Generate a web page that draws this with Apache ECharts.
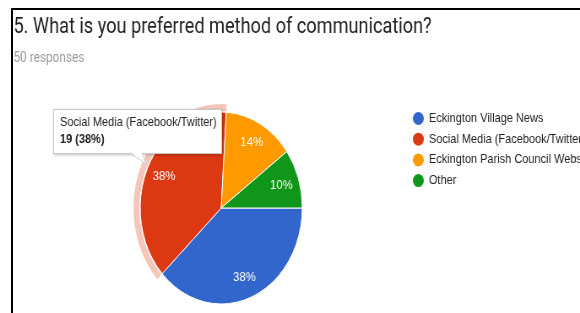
<!DOCTYPE html>
<html>
<head>
<meta charset="utf-8">
<script src="https://cdn.jsdelivr.net/npm/echarts@6/dist/echarts.min.js"></script>
<style>
  html, body { margin: 0; padding: 0; background: #fff; overflow: hidden; }
  #frame {
    position: absolute; left: 11px; top: 8px; width: 700px; height: 400px;
    border-left: 2px solid #000; border-top: 2px solid #000;
  }
  /* the screenshot is squeezed sideways, so the whole chart is too */
  #chart {
    position: absolute; left: 0; top: 0; width: 687px; height: 313px;
    transform: scaleX(0.8443); transform-origin: 0 0;
  }
</style>
</head>
<body>
<div id="frame"></div>
<div id="chart"></div>
<script>
const categories = ['Eckington Village News', 'Social Media (Facebook/Twitter)', 'Eckington Parish Council Website', 'Other']
const counts = [19, 19, 7, 5]
const totalResponses = 50
const picked = 1 // slice under the mouse in the screenshot

const sans = 'Arial, "Liberation Sans", sans-serif'
const pieData = categories.map((name, i) => ({ name: name, value: counts[i] }))

const myChart = echarts.init(document.getElementById('chart'))
myChart.setOption({
  animation: false,
  color: ['#3366cc', '#dc3912', '#ff9900', '#109618'],
  title: [
    {
      text: '5. What is you preferred method of communication?',
      left: 16, top: 17, padding: 0,
      textStyle: { fontFamily: 'Roboto', fontSize: 21.5, fontWeight: 'normal', color: '#212121' }
    },
    {
      text: totalResponses + ' responses',
      left: 16, top: 51, padding: 0,
      textStyle: { fontFamily: 'Roboto', fontSize: 14, fontWeight: 'normal', color: '#999' }
    }
  ],
  legend: {
    orient: 'vertical',
    left: 487, top: 110,
    icon: 'circle',
    itemWidth: 15, itemHeight: 15, itemGap: 3.7,
    padding: 0,
    textStyle: { fontFamily: sans, fontSize: 13, color: '#222' },
    data: categories
  },
  tooltip: {
    trigger: 'item',
    alwaysShowContent: true,
    transitionDuration: 0,
    backgroundColor: '#fff',
    borderColor: '#c8c8c8',
    borderWidth: 1,
    padding: [4, 7, 6, 7],
    extraCssText: 'width:184px;border-radius:0;box-shadow:1px 1px 3px rgba(0,0,0,0.25);',
    position: function () { return [63, 109] },
    formatter: function (p) {
      return '<div style="font-family:' + sans.replace(/"/g, "'") + ';font-size:13px;line-height:16.5px;color:#222;">' +
        p.name + '<br><b>' + p.value + ' (' + Math.round(p.percent) + '%)</b></div>' +
        '<svg width="22" height="14" style="position:absolute;left:90px;top:42px;overflow:visible">' +
        '<polygon points="0,0 14,0 19,12" fill="#fff"/>' +
        '<polyline points="0,0.5 19,12 14,0.5" fill="none" stroke="#cfcfcf" stroke-width="1"/></svg>'
    }
  },
  series: [
    {
      type: 'pie',
      name: 'answers',
      center: [262, 208],
      radius: [0, 96],
      startAngle: 0,
      label: { show: false },
      labelLine: { show: false },
      emphasis: { disabled: true },
      itemStyle: { borderColor: '#fff', borderWidth: 1 },
      data: pieData
    },
    {
      // percentages sit at 3/4 of the radius, as Google draws them
      type: 'pie',
      silent: true,
      tooltip: { show: false },
      center: [262, 208],
      radius: [48, 96],
      startAngle: 0,
      emphasis: { disabled: true },
      itemStyle: { color: 'rgba(0,0,0,0)' },
      label: {
        show: true, position: 'inside', formatter: '{d}%',
        fontFamily: sans, fontSize: 13.5, color: '#fff'
      },
      labelLine: { show: false },
      data: pieData
    },
    {
      // highlight ring round the hovered slice
      type: 'pie',
      silent: true,
      tooltip: { show: false },
      center: [262, 208],
      radius: [97, 104],
      startAngle: 0,
      label: { show: false },
      labelLine: { show: false },
      emphasis: { disabled: true },
      data: pieData.map((d, i) => ({
        name: d.name, value: d.value,
        itemStyle: { color: i === picked ? '#f5c6ba' : 'rgba(0,0,0,0)' }
      }))
    }
  ]
})

myChart.dispatchAction({ type: 'showTip', seriesIndex: 0, dataIndex: picked })
</script>
</body>
</html>
